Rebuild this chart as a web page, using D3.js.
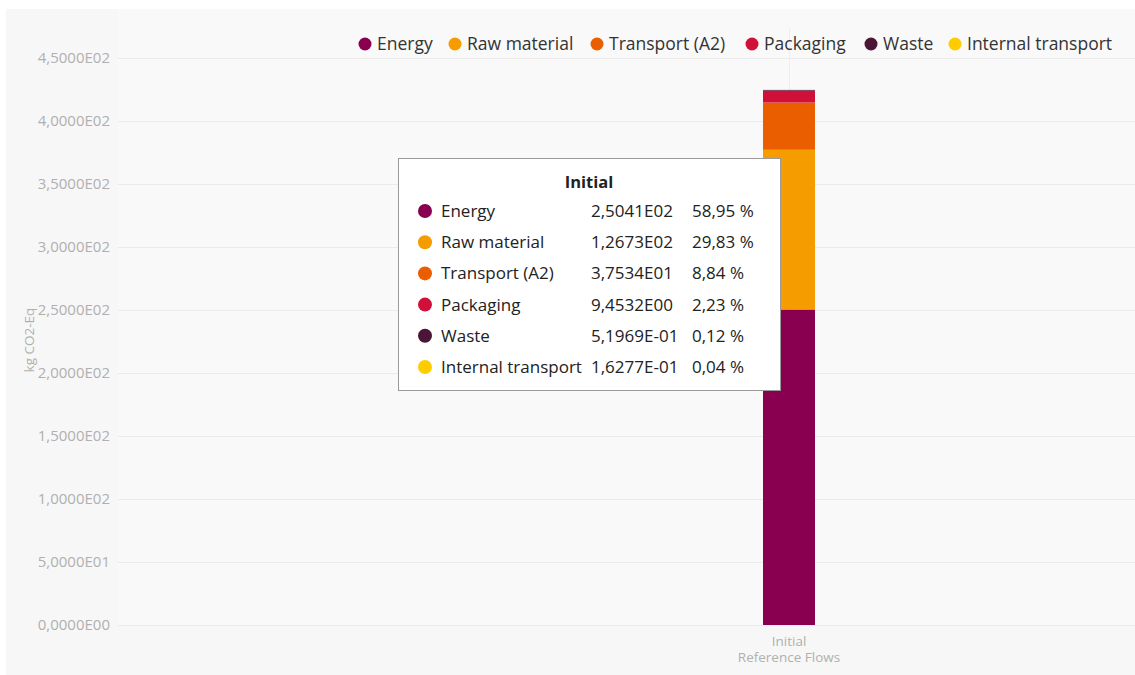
<!DOCTYPE html>
<html>
<head>
<meta charset="utf-8">
<script src="https://cdn.jsdelivr.net/npm/d3@7"></script>
<style>
  html, body { margin: 0; padding: 0; background: #fff; }
  svg { display: block; font-family: "Open Sans", "Noto Sans", sans-serif; }
</style>
</head>
<body>
<div id="chart"></div>
<script>
  // data
  var categories = ['Initial'];
  var categoryLabels = [['Initial', 'Reference Flows']];
  var seriesNames = ['Energy', 'Raw material', 'Transport (A2)', 'Packaging', 'Waste', 'Internal transport'];
  var seriesColors = ['#8a0050', '#f59c00', '#eb5e00', '#d1103a', '#4b1536', '#ffcc00'];
  var seriesValues = [250.41, 126.73, 37.534, 9.4532, 0.51969, 0.16277];
  var valueLabels = ['2,5041E02', '1,2673E02', '3,7534E01', '9,4532E00', '5,1969E-01', '1,6277E-01'];
  var percentLabels = ['58,95 %', '29,83 %', '8,84 %', '2,23 %', '0,12 %', '0,04 %'];
  var yTicks = [0, 50, 100, 150, 200, 250, 300, 350, 400, 450];
  var yTickLabels = ['0,0000E00', '5,0000E01', '1,0000E02', '1,5000E02', '2,0000E02', '2,5000E02', '3,0000E02', '3,5000E02', '4,0000E02', '4,5000E02'];

  var W = 1135, H = 675;
  var plot = { left: 118, right: 1135, top: 58, bottom: 625 };

  var svg = d3.select('#chart').append('svg').attr('width', W).attr('height', H);
  svg.append('rect').attr('x', 6).attr('y', 9).attr('width', W - 6).attr('height', H - 9).attr('fill', '#f7f7f7');
  svg.append('rect').attr('x', plot.left).attr('y', 9).attr('width', plot.right - plot.left).attr('height', plot.bottom - 9).attr('fill', '#f9f9f9');

  var y = d3.scaleLinear().domain([0, 450]).range([plot.bottom, plot.top]);
  var x = d3.scaleBand().domain(categories).range([448, 1130]).paddingInner(0).paddingOuter(6.06);

  // grid
  var g = svg.append('g');
  g.selectAll('.grid').data(yTicks).enter().append('line')
    .attr('x1', plot.left).attr('x2', plot.right)
    .attr('y1', function (d) { return y(d) + 0.5; }).attr('y2', function (d) { return y(d) + 0.5; })
    .attr('stroke', '#ebebeb').attr('stroke-width', 1);
  g.selectAll('.vgrid').data(categories).enter().append('line')
    .attr('x1', function (d) { return Math.round(x(d) + x.bandwidth() / 2) + 0.5; })
    .attr('x2', function (d) { return Math.round(x(d) + x.bandwidth() / 2) + 0.5; })
    .attr('y1', plot.top - 30).attr('y2', plot.bottom)
    .attr('stroke', '#eeeeee').attr('stroke-width', 1);

  // y axis
  var yAxis = d3.axisLeft(y).tickValues(yTicks).tickSize(0).tickPadding(0)
    .tickFormat(function (d, i) { return yTickLabels[i]; });
  var ya = svg.append('g').attr('transform', 'translate(110,0)').call(yAxis);
  ya.select('.domain').remove();
  ya.selectAll('text').attr('fill', '#b0b0b0').attr('font-size', '15px')
    .attr('font-family', '"Open Sans", sans-serif');

  svg.append('text').attr('transform', 'translate(34,340) rotate(-90)')
    .attr('text-anchor', 'middle').attr('fill', '#b0b0b0').attr('font-size', '13.5px')
    .text('kg CO2-Eq');

  // x labels (one text per line)
  categories.forEach(function (c, ci) {
    categoryLabels[ci].forEach(function (line, li) {
      svg.append('text').attr('text-anchor', 'middle').attr('fill', '#b0b0b0').attr('font-size', '13.5px')
        .attr('x', x(c) + x.bandwidth() / 2).attr('y', 646 + li * 16).text(line);
    });
  });

  // stacked bars
  var row = { key: categories[0] };
  seriesNames.forEach(function (s, i) { row[s] = seriesValues[i]; });
  var stack = d3.stack().keys(seriesNames)([row]);
  svg.append('g').selectAll('rect').data(stack).enter().append('rect')
    .attr('x', x(categories[0]))
    .attr('width', x.bandwidth())
    .attr('y', function (d) { return y(d[0][1]); })
    .attr('height', function (d) { return y(d[0][0]) - y(d[0][1]); })
    .attr('fill', function (d, i) { return seriesColors[i]; });

  // legend
  var legendX = [365, 455, 597, 752, 871, 955];
  var lg = svg.append('g');
  seriesNames.forEach(function (s, i) {
    lg.append('circle').attr('cx', legendX[i]).attr('cy', 44).attr('r', 6.5).attr('fill', seriesColors[i]);
    lg.append('text').attr('x', legendX[i] + 12).attr('y', 50).attr('fill', '#333').attr('font-size', '17.5px').text(s);
  });

  // tooltip
  var tt = svg.append('g').attr('transform', 'translate(398,158)');
  tt.append('rect').attr('x', 0.5).attr('y', 0.5).attr('width', 382).attr('height', 232)
    .attr('fill', '#fff').attr('stroke', '#9a9a9a');
  tt.append('text').attr('x', 191).attr('y', 30).attr('text-anchor', 'middle')
    .attr('font-weight', 'bold').attr('font-size', '16.5px').attr('fill', '#222').text(categories[0]);
  seriesNames.forEach(function (s, i) {
    var ry = 53 + i * 31.2;
    tt.append('circle').attr('cx', 27).attr('cy', ry).attr('r', 7).attr('fill', seriesColors[i]);
    tt.append('text').attr('x', 43).attr('y', ry + 6).attr('font-size', '17px').attr('fill', '#222').text(s);
    tt.append('text').attr('x', 193).attr('y', ry + 6).attr('font-size', '17px').attr('fill', '#222').text(valueLabels[i]);
    tt.append('text').attr('x', 294).attr('y', ry + 6).attr('font-size', '17px').attr('fill', '#222').text(percentLabels[i]);
  });
</script>
</body>
</html>
